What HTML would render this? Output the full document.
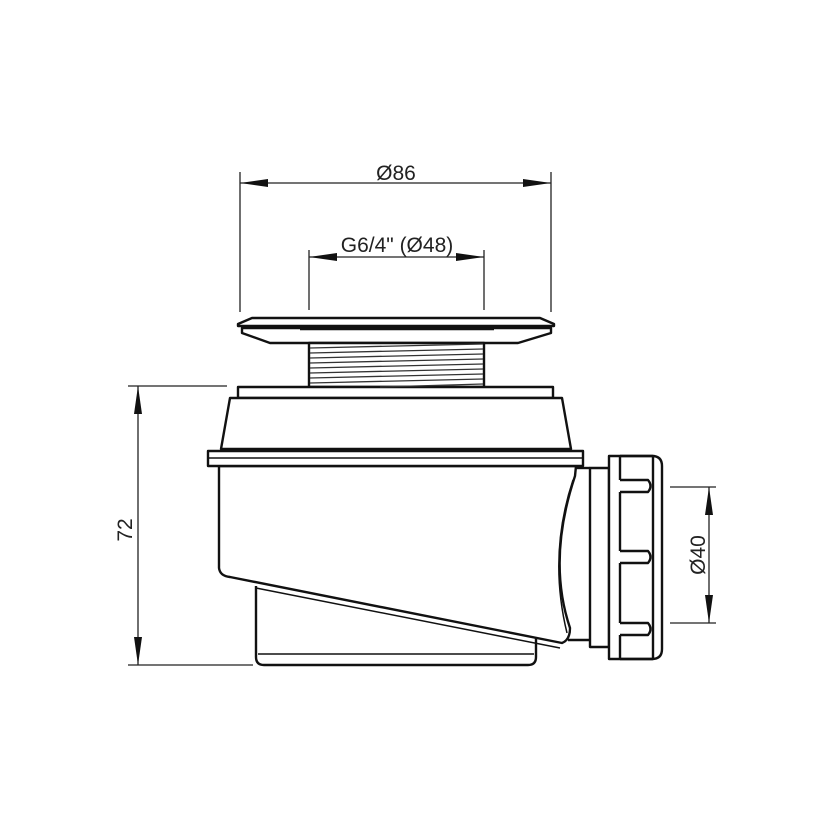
<!DOCTYPE html>
<html><head><meta charset="utf-8"><style>html,body{margin:0;padding:0;background:#fff}svg{display:block}</style></head>
<body>
<svg width="830" height="830" viewBox="0 0 830 830" xmlns="http://www.w3.org/2000/svg" font-family="Liberation Sans, Arial, sans-serif">
<g stroke="#222" fill="none" stroke-width="1.3">
<line x1="240" y1="172" x2="240" y2="312"/>
<line x1="551" y1="172" x2="551" y2="312"/>
<line x1="240" y1="183" x2="551" y2="183"/>
<line x1="309" y1="250" x2="309" y2="310"/>
<line x1="484" y1="250" x2="484" y2="310"/>
<line x1="309" y1="257" x2="484" y2="257"/>
<line x1="128" y1="386" x2="227" y2="386"/>
<line x1="128" y1="665" x2="253" y2="665"/>
<line x1="138" y1="386" x2="138" y2="665"/>
<line x1="670" y1="487" x2="716" y2="487"/>
<line x1="670" y1="623" x2="716" y2="623"/>
<line x1="709" y1="487" x2="709" y2="623"/>
</g>
<g fill="#111">
<polygon points="240,183 268,179 268,187"/>
<polygon points="551,183 523,179 523,187"/>
<polygon points="309,257 337,253 337,261"/>
<polygon points="484,257 456,253 456,261"/>
<polygon points="138,386 134,414 142,414"/>
<polygon points="138,665 134,637 142,637"/>
<polygon points="709,487 705,515 713,515"/>
<polygon points="709,623 705,595 713,595"/>
</g>
<g fill="#222" font-size="21">
<text x="396" y="180" text-anchor="middle">Ø86</text>
<text x="397" y="252" text-anchor="middle">G6/4" (Ø48)</text>
<text transform="translate(132,530) rotate(-90)" text-anchor="middle">72</text>
<text transform="translate(705,555) rotate(-90)" text-anchor="middle">Ø40</text>
</g>
<g stroke="#111" fill="#fff" stroke-width="2.4" stroke-linejoin="round">
<path d="M270,343 L518,343 L551,333 L551,328 L242,328 L242,333 Z"/>
<path d="M252,318 L540,318 L554,324 L554,326 L238,326 L238,324 Z"/>
<line x1="300" y1="329" x2="494" y2="329"/>
<rect x="309" y="343" width="175" height="44"/>
<rect x="238" y="387" width="315" height="11"/>
<path d="M230,398 L562,398 L571,449 L221,449 Z"/>
<path d="M256,586 L256,657 Q256,665 264,665 L528,665 Q536,665 536,657 L536,590"/>
<line x1="258" y1="654" x2="534" y2="654" stroke-width="1.5"/>
<rect x="590" y="468" width="19" height="179"/>
<line x1="574" y1="468" x2="590" y2="468"/>
<line x1="568" y1="640" x2="590" y2="640"/>
<path d="M219,466 L219,568 Q220,576 230,577 L562,643 Q570,640 570,628 Q547,560 575,476 L576,466 Z"/>
<path d="M256,588 L560,648" stroke-width="1.5" fill="none"/>
<path d="M573,480 Q548,555 567,633" stroke-width="1.5" fill="none"/>
<rect x="208" y="451" width="375" height="15"/>
<line x1="208" y1="458" x2="583" y2="458" stroke-width="1.6"/>
<path d="M609,456 L652,456 Q662,456 662,466 L662,649 Q662,659 652,659 L609,659 Z"/>
<path d="M620,456 L653,456 L653,659 L620,659" fill="none"/>
<path d="M620,480 L648,480 Q653,486 648,492 L620,492" fill="#fff"/>
<path d="M620,551 L648,551 Q653,557 648,563 L620,563" fill="#fff"/>
<path d="M620,623 L648,623 Q653,629 648,635 L620,635" fill="#fff"/>
<line x1="620" y1="456" x2="620" y2="480"/>
<line x1="620" y1="492" x2="620" y2="551"/>
<line x1="620" y1="563" x2="620" y2="623"/>
<line x1="620" y1="635" x2="620" y2="659"/>
</g>
<g stroke="#333" stroke-width="1.3">
<line x1="310" y1="348" x2="483" y2="344"/>
<line x1="310" y1="353" x2="483" y2="349"/>
<line x1="310" y1="358" x2="483" y2="354"/>
<line x1="310" y1="363" x2="483" y2="359"/>
<line x1="310" y1="368" x2="483" y2="364"/>
<line x1="310" y1="373" x2="483" y2="369"/>
<line x1="310" y1="378" x2="483" y2="374"/>
<line x1="310" y1="383" x2="483" y2="379"/>
<line x1="380" y1="387" x2="483" y2="384"/>
</g>
</svg>
</body></html>
